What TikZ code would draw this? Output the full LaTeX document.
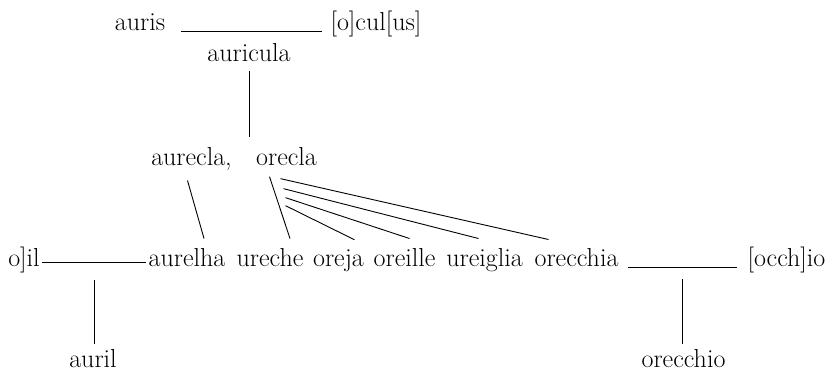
\documentclass[tikz,border=0pt]{standalone}
\usepackage{tikz}

\begin{document}
\begin{tikzpicture}[x=1pt,y=-1pt,line width=0.9pt,
		word/.style={anchor=base,inner sep=0pt,font=\fontsize{26}{31}\selectfont}]
		\useasboundingbox (0,0) rectangle (831,374);
%		\draw[help lines,step=50] (0,0) grid (831,374);
		\path (140,31) coordinate (auris_pos);
		\path (376,31) coordinate (oculus_pos);
		\path (249,62) coordinate (auricula_pos);
		\path (191.5,166) coordinate (aurecla_pos);
		\path (286.5,166) coordinate (orecla_pos);

		\path (24,267) coordinate (oil_pos);
		\path (187,267) coordinate (aurelha_pos);
		\path (270,267) coordinate (ureche_pos);
		\path (338.5,267) coordinate (oreja_pos);
		\path (404.5,267) coordinate (oreille_pos);
		\path (484.5,267) coordinate (ureiglia_pos);
		\path (576.5,267) coordinate (orecchia_pos);
		\path (786.5,267) coordinate (occhio_pos);

		\path (93,368) coordinate (auril_pos);
		\path (683.5,368) coordinate (orecchio_pos);

		\draw (auris_pos) node(auris) [word] {auris};
		\draw (oculus_pos) node(oculus) [word] {[o]cul[us]};
		\draw (auricula_pos) node(auricula) [word] {auricula};
		\draw (aurecla_pos) node(aurecla) [word] {aurecla,};
		\draw (orecla_pos) node(orecla) [word] {orecla};

		\draw (oil_pos) node(oil) [word] {o]il};
		\draw (aurelha_pos) node(aurelha) [word] {aurelha};
		\draw (ureche_pos) node(ureche) [word] {ureche};
		\draw (oreja_pos) node(oreja) [word] {oreja};
		\draw (oreille_pos) node(oreille) [word] {oreille};
		\draw (ureiglia_pos) node(ureiglia) [word] {ureiglia};
		\draw (orecchia_pos) node(orecchia) [word] {orecchia};
		\draw (occhio_pos) node(occhio) [word] {[occh]io};

		\draw (auril_pos) node(auril) [word] {auril};
		\draw (orecchio_pos) node(orecchio) [word] {orecchio};

		\draw ([shift={(15.5,0)}]auris.base east) -- ([shift={(-8,0)}]oculus.base west);
		\path (auricula.south |- orecla.north) coordinate (auricula_foot);
		\draw ([shift={(0,8)}]auricula.south) -- ([shift={(0,-11)}]auricula_foot);

		\draw ([shift={(-4,9)}]aurecla.south) -- ([shift={(17,-10)}]aurelha.north);
		\draw ([shift={(-17,10)}]orecla.south) -- ([shift={(20,-10)}]ureche.north);
		\draw ([shift={(-1,39)}]orecla.south) -- ([shift={(16,-10)}]oreja.north);
		\draw ([shift={(-1,31)}]orecla.south) -- ([shift={(5,-10)}]oreille.north);
		\draw ([shift={(-3,22)}]orecla.south) -- ([shift={(-6,-10)}]ureiglia.north);
		\draw ([shift={(-6,12)}]orecla.south) -- ([shift={(-28,-9)}]orecchia.north);

		\draw ([shift={(2,-5)}]oil.base east) -- ([shift={(-2,-5)}]aurelha.base west)
			coordinate[midway] (oil_mid);
		\draw ([shift={(0,18)}]oil_mid) -- ([shift={(0,-6)}]oil_mid |- auril.north);

		\draw ([shift={(9,0)}]orecchia.base east) -- ([shift={(-10,0)}]occhio.base west)
			coordinate[midway] (occhio_mid);
		\draw ([shift={(0,12)}]occhio_mid) -- ([shift={(0,-6)}]occhio_mid |- orecchio.north);
	\end{tikzpicture}
\end{document}
